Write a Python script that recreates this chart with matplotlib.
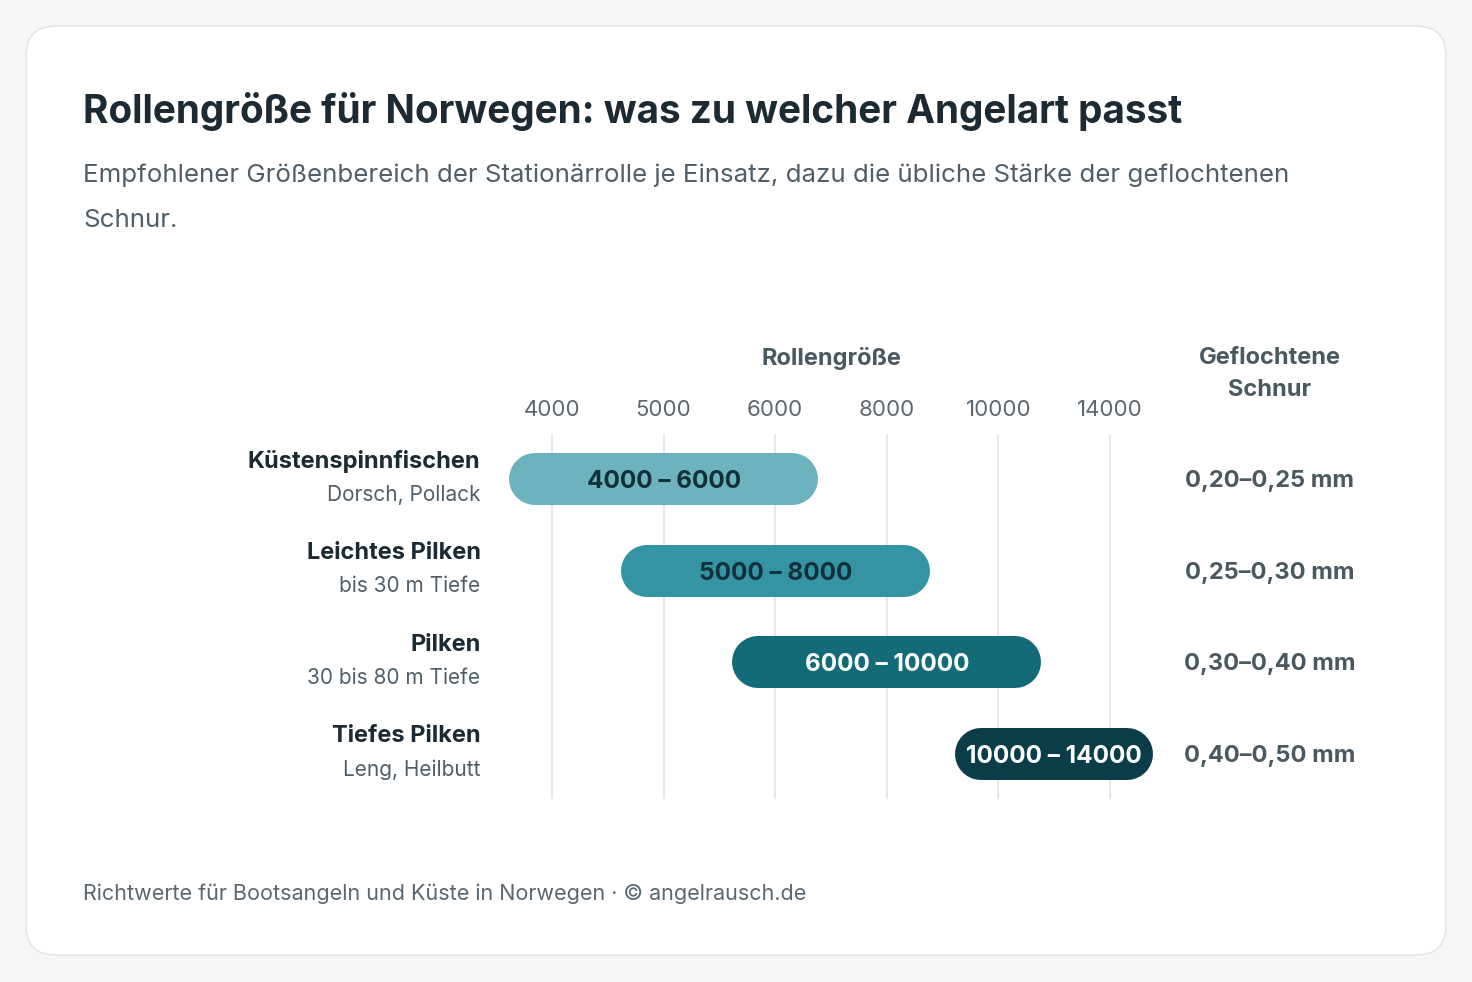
import matplotlib.pyplot as plt
from matplotlib.patches import FancyBboxPatch

plt.rcParams['font.family'] = ['Inter', 'DejaVu Sans']

# === Data ===
sizes = ["4000", "5000", "6000", "8000", "10000", "14000"]
uses = ["Küstenspinnfischen", "Leichtes Pilken", "Pilken", "Tiefes Pilken"]
notes = ["Dorsch, Pollack", "bis 30 m Tiefe", "30 bis 80 m Tiefe", "Leng, Heilbutt"]
range_lo = ["4000", "5000", "6000", "10000"]
range_hi = ["6000", "8000", "10000", "14000"]
braid = ["0,20–0,25 mm", "0,25–0,30 mm", "0,30–0,40 mm", "0,40–0,50 mm"]

bar_colors = ["#6db3bd", "#3594a3", "#136b77", "#0b3d48"]
label_colors = ["#10303a", "#10303a", "#ffffff", "#ffffff"]

W, H = 1472, 982
fig = plt.figure(figsize=(W / 100, H / 100), dpi=100)
fig.patch.set_facecolor("#f5f6f8")

# background axes in pixel coords
bg = fig.add_axes([0, 0, 1, 1])
bg.set_xlim(0, W)
bg.set_ylim(H, 0)
bg.axis("off")
bg.add_patch(FancyBboxPatch((26, 26), W - 52, H - 53, boxstyle="round,pad=0,rounding_size=30",
                            facecolor="white", edgecolor="#e3e6e9", linewidth=1.2))

dark = "#1c2a33"
grey = "#4f5e68"
bg.text(83, 111, "Rollengröße für Norwegen: was zu welcher Angelart passt", fontsize=27.9,
        fontweight="bold", color=dark, va="center", ha="left")
bg.text(83, 175, "Empfohlener Größenbereich der Stationärrolle je Einsatz, dazu die übliche Stärke der geflochtenen",
        fontsize=18.65, color=grey, va="center", ha="left")
bg.text(83, 220, "Schnur.", fontsize=18.65, color=grey, va="center", ha="left")
bg.text(83, 894, "Richtwerte für Bootsangeln und Küste in Norwegen · © angelrausch.de",
        fontsize=15.5, color="#5a6770", va="center", ha="left")

# chart axes: category index on x, row index on y
step_x = 111.6
x0 = 552 - 0.5 * step_x
y_top, y_bot = 433.5, 799.5
ax = fig.add_axes([x0 / W, (H - y_bot) / H, 6 * step_x / W, (y_bot - y_top) / H])
ax.set_xlim(-0.5, len(sizes) - 0.5)
ax.set_ylim(len(uses) - 0.5, -0.5)
ax.axis("off")

for i in range(len(sizes)):
    ax.axvline(i, ymin=0.005, ymax=0.995, color="#e4e7ea", linewidth=1.3, zorder=0)

bar_px = 52
rx = 6.43
for r in range(len(uses)):
    s = sizes.index(range_lo[r])
    e = sizes.index(range_hi[r])
    ax.plot([s - 0.152, e + 0.152], [r, r], color=bar_colors[r], linewidth=bar_px * 0.72,
            solid_capstyle="round", zorder=2)
    ax.text((s + e) / 2, r + 0.03, f"{range_lo[r]} – {range_hi[r]}", ha="center", va="center",
            fontsize=17.5, fontweight="bold", color=label_colors[r], zorder=3)
    ax.text(-0.64, r - 0.19, uses[r], ha="right", va="center", fontsize=17,
            fontweight="bold", color=dark, clip_on=False)
    ax.text(-0.64, r + 0.17, notes[r], ha="right", va="center", fontsize=15,
            color=grey, clip_on=False)
    ax.text(rx, r + 0.02, braid[r], ha="center", va="center", fontsize=17,
            fontweight="bold", color="#4a5860", clip_on=False)

for i, lab in enumerate(sizes):
    ax.text(i, -0.76, lab, ha="center", va="center", fontsize=16, color="#5a6770", clip_on=False)

ax.text(2.5, -1.32, "Rollengröße", ha="center", va="center", fontsize=17,
        fontweight="bold", color="#4a5860", clip_on=False)
ax.text(rx, -1.32, "Geflochtene", ha="center", va="center", fontsize=17,
        fontweight="bold", color="#4a5860", clip_on=False)
ax.text(rx, -0.98, "Schnur", ha="center", va="center", fontsize=17,
        fontweight="bold", color="#4a5860", clip_on=False)

fig.savefig("out.png", dpi=100, facecolor=fig.get_facecolor())
